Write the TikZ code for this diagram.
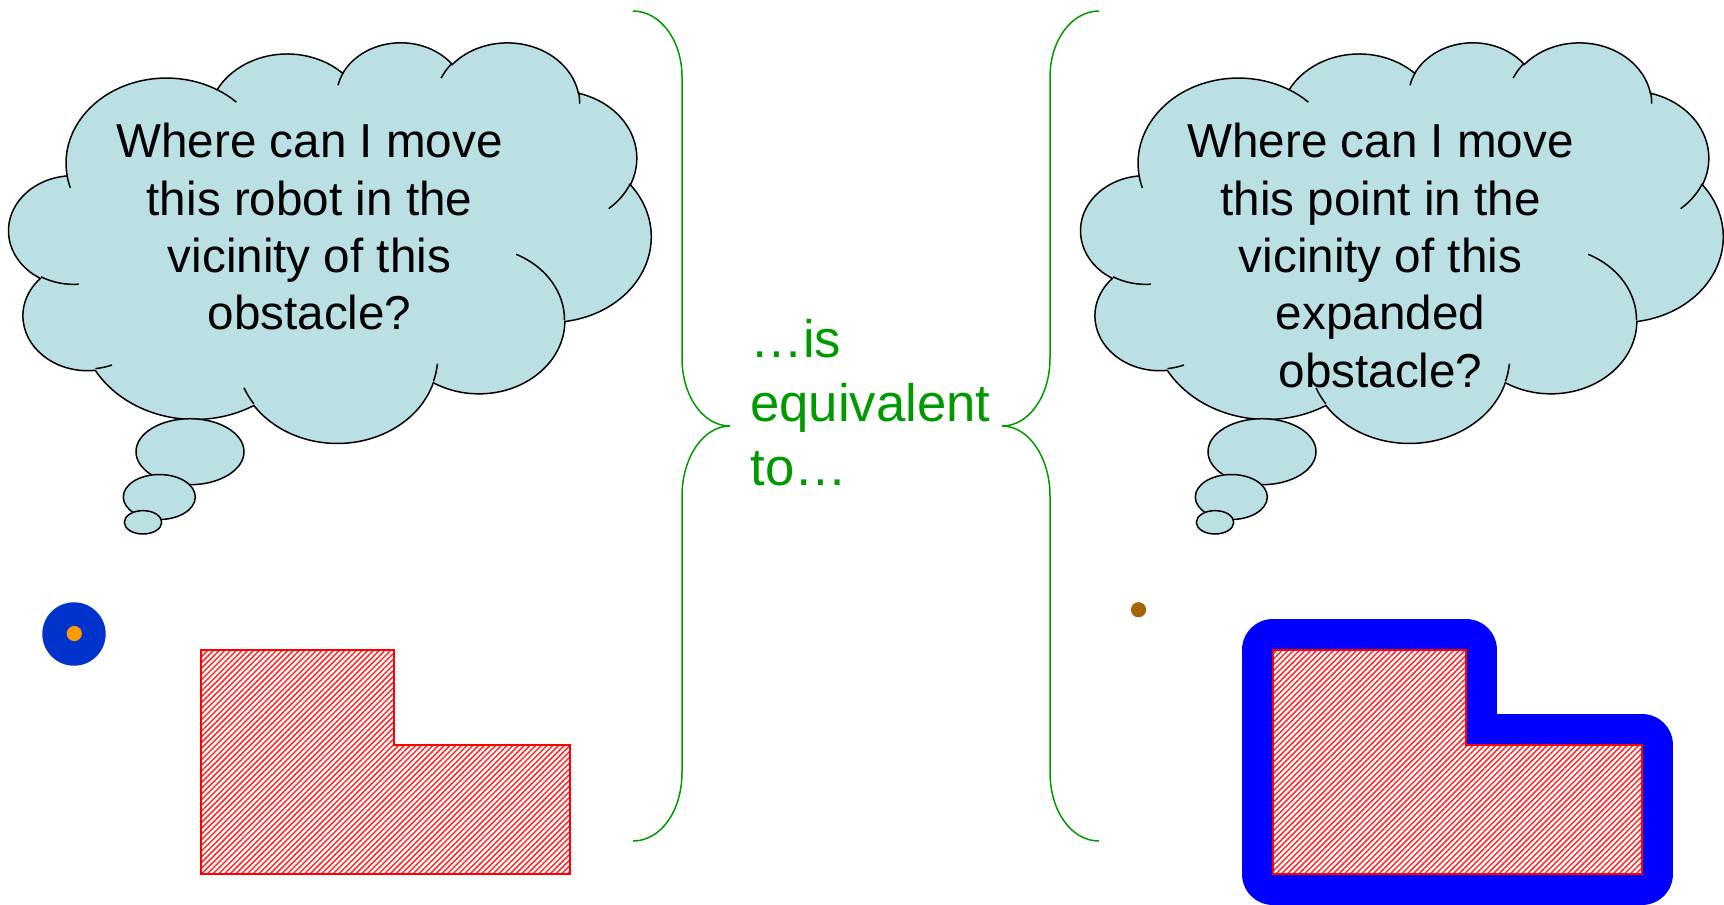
\documentclass[tikz,border=0pt]{standalone}
\usepackage{fontspec}
\setmainfont{Liberation Sans}
\usetikzlibrary{patterns.meta}
\definecolor{cloudfill}{HTML}{BBE0E3}
\definecolor{eqgreen}{RGB}{0,153,0}
\definecolor{robotblue}{RGB}{0,51,204}
\definecolor{robotorange}{RGB}{255,153,0}
\definecolor{pointbrown}{RGB}{166,100,0}
\definecolor{cspace}{RGB}{0,0,255}
% elliptical arc given DrawingML-style (true angles, y downwards)
\newcommand\cldarc[4]{arc[x radius=#1, y radius=#2,
  start angle={atan2((#1)*sin(#3),(#2)*cos(#3))},
  delta angle={mod(atan2((#1)*sin((#3)+(#4)),(#2)*cos((#3)+(#4)))-atan2((#1)*sin(#3),(#2)*cos(#3))+720,360)}]}
\newcommand\cloudbody{%
  \path[cloudshape] (39.00,143.70)
    \cldarc{67.53}{91.90}{-190.4875}{123.7805}
    \cldarc{53.33}{72.67}{-144.1024}{89.9452}
    \cldarc{43.65}{59.45}{-145.8079}{99.7230}
    \cldarc{48.57}{65.95}{-130.9861}{117.2417}
    \cldarc{53.33}{72.73}{-78.7089}{109.0269}
    \cldarc{67.75}{92.20}{-46.2673}{130.2690}
    \cldarc{57.85}{78.67}{0.6250}{114.0333}
    \cldarc{67.52}{92.15}{22.4516}{115.1726}
    \cldarc{77.20}{105.43}{66.2426}{75.7110}
    \cldarc{43.60}{59.18}{-274.9421}{146.7356}
    \cldarc{43.45}{59.45}{-246.8285}{152.5189} -- cycle;
  \path[cloudline]
    (46.93,261.77) \cldarc{43.45}{59.45}{86.742}{26.4295}
    (69.28,348.99) \cldarc{43.60}{59.18}{73.6105}{11.4475}
    (164.78,390.90) \cldarc{67.52}{92.15}{137.6242}{14.0811}
    (288.27,347.51) \cldarc{67.52}{92.15}{6.4533}{15.9984}
    (341.29,229.54) \cldarc{57.85}{78.67}{-70.2924}{70.9174}
    (417.98,153.54) \cldarc{53.33}{72.73}{30.3180}{27.7515}
    (383.24,54.26) \cldarc{48.57}{65.95}{-13.7443}{14.8589}
    (290.78,39.52) \cldarc{48.57}{65.95}{-149.1815}{18.1954}
    (221.41,47.20) \cldarc{43.65}{59.45}{-163.4943}{17.6864}
    (140.00,51.92) \cldarc{67.53}{91.90}{-66.7070}{12.3194}
    (41.27,157.89) \cldarc{67.53}{91.90}{157.6544}{11.8582};
}
\tikzset{
  cloudshape/.style={fill=cloudfill, draw=black, line width=0.85pt},
  cloudline/.style={draw=black, line width=0.85pt},
  bubble/.style={fill=cloudfill, draw=black, line width=0.85pt},
  cloudtext/.style={font=\fontsize{27.1}{32.7}\selectfont, align=center, anchor=north, inner sep=0pt},
  eqtext/.style={text=eqgreen, font=\fontsize{30.0}{36.4}\selectfont, align=left, anchor=north west, inner sep=0pt},
  bracestyle/.style={draw=eqgreen, line width=0.85pt},
  obstacle/.style={draw=red, line width=1.2pt, preaction={fill=white},
    pattern={Lines[angle=45, distance=2.3pt, line width=0.85pt]}, pattern color=red!85},
  grown/.style={draw=cspace, line width=35.3pt, line join=round},
}
\begin{document}
\begin{tikzpicture}[x=0.02cm, y=-0.02cm]
\useasboundingbox (0,0) rectangle (1724,904);

% ---- left thought cloud
\begin{scope}[shift={(9,41.5)}, xscale=642/432, yscale=400.5/432]
  \cloudbody
\end{scope}
\draw[bubble] (190,451.7) ellipse [x radius=54, y radius=33];
\draw[bubble] (159.3,497) ellipse [x radius=36, y radius=22.5];
\draw[bubble] (143,522.3) ellipse [x radius=18.7, y radius=11.7];
\node[cloudtext] (q1) at (309.5,122.7) {Where can I move\\this robot in the\\vicinity of this\\obstacle?};

% ---- right thought cloud
\begin{scope}[shift={(1081,41.5)}, xscale=642/432, yscale=400.5/432]
  \cloudbody
\end{scope}
\draw[bubble] (1262,451.7) ellipse [x radius=54, y radius=33];
\draw[bubble] (1231.3,497) ellipse [x radius=36, y radius=22.5];
\draw[bubble] (1215,522.3) ellipse [x radius=18.7, y radius=11.7];
\node[cloudtext] (q2) at (1380.5,122.7) {Where can I move\\this point in the\\vicinity of this\\expanded\\obstacle?};

% ---- braces
\draw[bracestyle] (633,11) .. controls (660,11) and (682,40) .. (682,77) -- (682,358)
  .. controls (682,396) and (703,426) .. (730,426)
  .. controls (703,426) and (682,458) .. (682,496) -- (682,772)
  .. controls (682,812) and (660,841) .. (633,841);
\draw[bracestyle] (1099,11) .. controls (1072,11) and (1050,40) .. (1050,77) -- (1050,358)
  .. controls (1050,396) and (1029,426) .. (1002,426)
  .. controls (1029,426) and (1050,458) .. (1050,496) -- (1050,772)
  .. controls (1050,812) and (1072,841) .. (1099,841);
\node[eqtext] (eq) at (750,319) {…is\\equivalent\\to…};

% ---- robot and obstacle
\fill[robotblue] (74,634) circle [radius=31.7];
\fill[robotorange] (74.3,633.5) circle [radius=7.6];
\draw[obstacle] (201,650) -- (394,650) -- (394,745) -- (570,745) -- (570,874) -- (201,874) -- cycle;

% ---- point and expanded obstacle
\fill[pointbrown] (1138.5,609.7) circle [radius=7.6];
\draw[grown] (1273,650) -- (1466,650) -- (1466,745) -- (1642,745) -- (1642,874) -- (1273,874) -- cycle;
\draw[obstacle] (1273,650) -- (1466,650) -- (1466,745) -- (1642,745) -- (1642,874) -- (1273,874) -- cycle;
\end{tikzpicture}
\end{document}
